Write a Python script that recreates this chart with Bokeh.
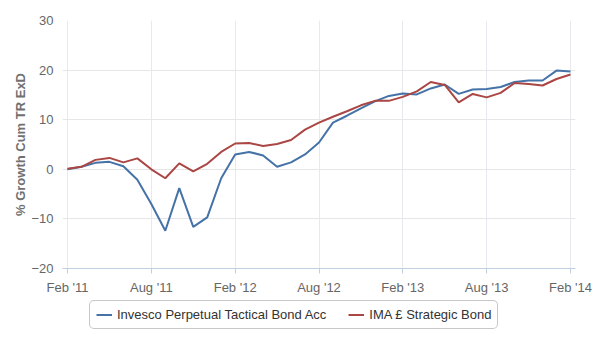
from bokeh.plotting import figure
from bokeh.layouts import column
from bokeh.models import Range1d, FixedTicker, Legend, LegendItem
from bokeh.embed import file_html
from bokeh.resources import INLINE

# Monthly points, Feb 2011 .. Feb 2014 (index 0..36)
fund_name = "Invesco Perpetual Tactical Bond Acc"
sector_name = "IMA £ Strategic Bond"

fund = [0.0, 0.5, 1.3, 1.5, 0.6, -2.1, -7.0, -12.4, -3.8, -11.6, -9.7, -1.8,
        3.0, 3.5, 2.8, 0.5, 1.4, 3.0, 5.4, 9.4, 10.8, 12.3, 13.7, 14.8,
        15.3, 15.1, 16.3, 17.1, 15.2, 16.1, 16.2, 16.6, 17.6, 17.9, 17.9, 19.9,
        19.7]
sector = [0.1, 0.5, 1.9, 2.3, 1.4, 2.2, 0.0, -1.8, 1.2, -0.4, 1.1, 3.5,
          5.2, 5.3, 4.7, 5.1, 5.9, 8.0, 9.4, 10.6, 11.7, 12.9, 13.8, 13.8,
          14.6, 15.7, 17.6, 17.0, 13.5, 15.2, 14.5, 15.4, 17.4, 17.2, 16.9, 18.2,
          19.1]
months = list(range(len(fund)))

tick_positions = [0, 6, 12, 18, 24, 30, 36]
tick_labels = ["Feb '11", "Aug '11", "Feb '12", "Aug '12", "Feb '13", "Aug '13", "Feb '14"]
y_ticks = [-20, -10, 0, 10, 20, 30]

FONT = "Liberation Sans"
BLUE = "#4572A7"
RED = "#AA4643"
pad = 5 / (503 / 36)

p = figure(width=600, height=300, output_backend="svg", toolbar_location=None,
           x_range=Range1d(-pad, 36 + pad), y_range=Range1d(-20, 30),
           min_border_left=62, min_border_right=25, min_border_top=20,
           min_border_bottom=32)
p.outline_line_color = None
p.background_fill_color = "white"
p.border_fill_color = "white"

p.line(months, fund, line_color=BLUE, line_width=2)
p.line(months, sector, line_color=RED, line_width=2)

# x axis
xa = p.xaxis[0]
xa.ticker = FixedTicker(ticks=tick_positions)
xa.major_label_overrides = {t: l for t, l in zip(tick_positions, tick_labels)}
xa.axis_line_color = "#C0D0E0"
xa.major_tick_line_color = "#C0D0E0"
xa.major_tick_out = 5
xa.major_tick_in = 0
xa.minor_tick_line_color = None
xa.major_label_text_font = FONT
xa.major_label_text_font_size = "13px"
xa.major_label_text_color = "#666666"
xa.major_label_standoff = 6

# y axis
ya = p.yaxis[0]
ya.ticker = FixedTicker(ticks=y_ticks)
ya.axis_line_color = None
ya.major_tick_line_color = None
ya.minor_tick_line_color = None
ya.major_tick_out = 0
ya.major_label_text_font = FONT
ya.major_label_text_font_size = "13px"
ya.major_label_text_color = "#666666"
ya.major_label_standoff = 9
ya.axis_label = "% Growth Cum TR ExD"
ya.axis_label_text_font = FONT
ya.axis_label_text_font_size = "13px"
ya.axis_label_text_font_style = "bold"
ya.axis_label_text_color = "#707070"
ya.axis_label_standoff = 0

p.xgrid.grid_line_color = "#E6E9EE"
p.ygrid.grid_line_color = "#E6E6E6"

# legend strip below the chart (series drawn out of view; only legend shows)
lg = figure(width=600, height=50, output_backend="svg", toolbar_location=None,
            x_axis_location=None, y_axis_location=None,
            x_range=Range1d(-pad, 36 + pad), y_range=Range1d(100, 101),
            min_border_left=62, min_border_right=25, min_border_top=0,
            min_border_bottom=0)
lg.outline_line_color = None
lg.grid.visible = False
r1 = lg.line(months, fund, line_color=BLUE, line_width=2)
r2 = lg.line(months, sector, line_color=RED, line_width=2)

legend = Legend(items=[LegendItem(label=fund_name, renderers=[r1]),
                       LegendItem(label=sector_name, renderers=[r2])],
                orientation="horizontal", location=(27, 21))
legend.label_text_font = FONT
legend.label_text_font_size = "13px"
legend.label_text_color = "#333333"
legend.border_line_color = "#909090"
legend.border_line_width = 1
legend.glyph_width = 16
legend.glyph_height = 13
legend.label_height = 13
legend.label_standoff = 5
legend.spacing = 22
legend.padding = 6
legend.margin = 0
try:
    legend.border_radius = 5
except Exception:
    pass
lg.add_layout(legend)

layout = column(p, lg, spacing=0)
open("out.html", "w").write(file_html(layout, INLINE))
